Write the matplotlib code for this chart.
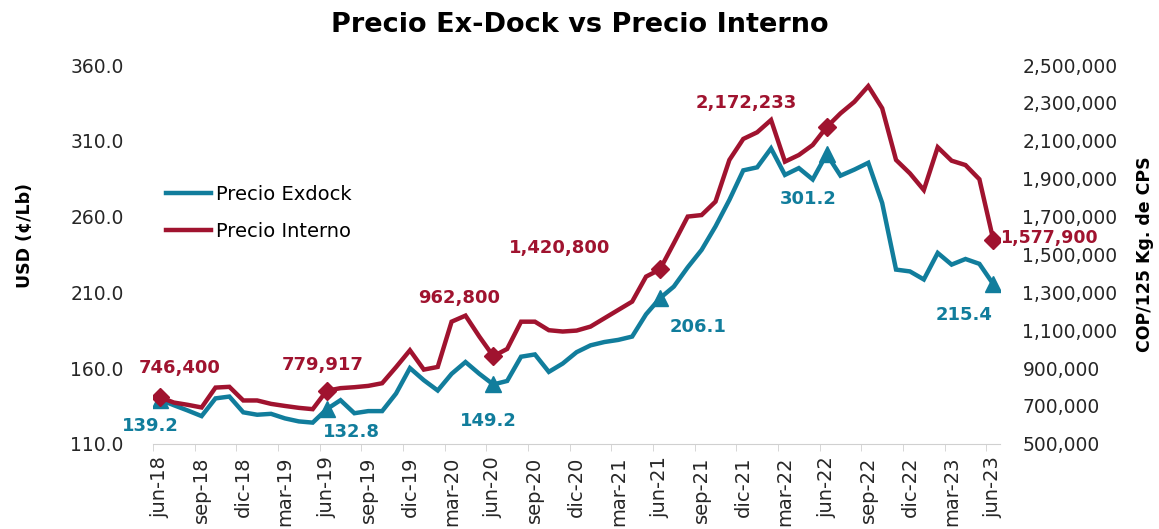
import matplotlib
matplotlib.use("Agg")
import matplotlib.pyplot as plt
import numpy as np

# meses jun-18 .. jun-23
meses = ["jun-18", "jul-18", "ago-18", "sep-18", "oct-18", "nov-18", "dic-18", "ene-19", "feb-19",
         "mar-19", "abr-19", "may-19", "jun-19", "jul-19", "ago-19", "sep-19", "oct-19", "nov-19",
         "dic-19", "ene-20", "feb-20", "mar-20", "abr-20", "may-20", "jun-20", "jul-20", "ago-20",
         "sep-20", "oct-20", "nov-20", "dic-20", "ene-21", "feb-21", "mar-21", "abr-21", "may-21",
         "jun-21", "jul-21", "ago-21", "sep-21", "oct-21", "nov-21", "dic-21", "ene-22", "feb-22",
         "mar-22", "abr-22", "may-22", "jun-22", "jul-22", "ago-22", "sep-22", "oct-22", "nov-22",
         "dic-22", "ene-23", "feb-23", "mar-23", "abr-23", "may-23", "jun-23"]

# USD (c/Lb)
exdock = [139.2, 135.5, 132.0, 128.3, 140.0, 141.2, 130.8, 129.2, 129.8, 126.8, 124.8, 124.0,
          132.8, 138.8, 130.2, 131.6, 131.6, 143.2, 160.0, 152.0, 145.2, 156.2, 164.0, 156.2,
          149.2, 151.5, 167.5, 169.0, 157.5, 163.0, 170.5, 175.0, 177.2, 178.6, 180.8, 195.5,
          206.1, 213.8, 226.5, 238.0, 253.5, 271.0, 290.5, 292.5, 305.0, 287.5, 292.0, 284.5,
          301.2, 287.0, 291.0, 295.5, 269.0, 225.0, 223.8, 218.5, 236.0, 228.3, 232.0, 228.8,
          215.4]

# COP / 125 Kg de CPS
interno = [746400, 718000, 706000, 692000, 797000, 801000, 729000, 729000, 711000, 700000, 690000,
           683000, 779917, 794000, 799000, 806000, 820000, 905000, 994000, 892000, 906000, 1145000,
           1177000, 1066000, 962800, 1001000, 1145000, 1145000, 1100000, 1093000, 1098000, 1119000,
           1163000, 1207000, 1251000, 1383000, 1420800, 1559000, 1700000, 1708000, 1779000, 1999000,
           2110000, 2145000, 2210000, 1990000, 2025000, 2078000, 2172233, 2245000, 2306000, 2389000,
           2272000, 1999000, 1928000, 1840000, 2066000, 1995000, 1972000, 1897000, 1577900]

# puntos marcados (cada junio) y desplazamiento de la etiqueta en pixeles
marcas = [0, 12, 24, 36, 48, 60]
off_exdock = [(-10, -26), (25, -23), (-5, -37), (38, -29), (-18, -45), (-29, -31)]
off_interno = [(20, 29), (-4, 26), (-34, 58), (-100, 21), (-80, 24), (56, 2)]

azul = "#117D9C"
rojo = "#A0132F"
plt.rcParams["font.family"] = ["DejaVu Sans"]

fig = plt.figure(figsize=(11.59, 5.29), dpi=100)
ax = fig.add_axes([0.132, 0.161, 0.731, 0.716])
ax2 = ax.twinx()

x = np.arange(len(meses))
ax.plot(x, exdock, color=azul, lw=3.2, label="Precio Exdock", solid_joinstyle="miter")
ax2.plot(x, interno, color=rojo, lw=3.2, label="Precio Interno", solid_joinstyle="miter")
ax.plot(x[marcas], np.array(exdock)[marcas], ls="none", marker="^", ms=11, color=azul)
ax2.plot(x[marcas], np.array(interno)[marcas], ls="none", marker="D", ms=9, color=rojo)

for k, i in enumerate(marcas):
    ax.annotate(f"{exdock[i]:.1f}", (x[i], exdock[i]), xytext=off_exdock[k], textcoords="offset pixels",
                ha="center", va="center", color=azul, fontsize=13, fontweight="bold")
    ax2.annotate(f"{interno[i]:,}", (x[i], interno[i]), xytext=off_interno[k], textcoords="offset pixels",
                 ha="center", va="center", color=rojo, fontsize=12.5 if i == 60 else 13, fontweight="bold")

# ejes
ax.set_xlim(-0.5, len(meses) - 0.5)
ax.set_ylim(110, 360)
ax2.set_ylim(500000, 2500000)
ax.set_yticks(np.arange(110, 361, 50))
ax.set_yticklabels([f"{v:.1f}" for v in np.arange(110, 361, 50)])
ax2.set_yticks(np.arange(500000, 2500001, 200000))
ax2.set_yticklabels([f"{v:,}" for v in np.arange(500000, 2500001, 200000)])

ax.set_xticks(x[::3])
ax.set_xticklabels(meses[::3], rotation=90)
ax.set_xticks(np.arange(-0.5, len(meses), 3), minor=True)
ax.tick_params(axis="x", which="major", length=0, pad=9, labelsize=14, colors="#262626")
ax.tick_params(axis="x", which="minor", length=5, color="#D0D0D0")
ax.tick_params(axis="y", length=0, labelsize=13.5, pad=21, colors="#262626")
ax2.tick_params(axis="y", length=0, labelsize=13.5, pad=16, colors="#262626")

for a in (ax, ax2):
    for s in a.spines.values():
        s.set_visible(False)
ax.spines["bottom"].set_visible(True)
ax.spines["bottom"].set_color("#D0D0D0")

ax.set_ylabel("USD (¢/Lb)", fontsize=12.5, fontweight="bold")
ax.yaxis.set_label_coords(-0.141, 0.55)
ax2.set_ylabel("COP/125 Kg. de CPS", fontsize=12.5, fontweight="bold")
ax2.yaxis.set_label_coords(1.16, 0.5)
fig.text(0.5, 0.953, "Precio Ex-Dock vs Precio Interno", ha="center", va="center",
         fontsize=19.5, fontweight="bold")

h1, l1 = ax.get_legend_handles_labels()
h2, l2 = ax2.get_legend_handles_labels()
ax.legend(h1 + h2, l1 + l2, loc="upper left", bbox_to_anchor=(-0.005, 0.73), frameon=False,
          fontsize=14, handlelength=2.3, handletextpad=0.25, labelspacing=0.95)

fig.savefig("out.png", dpi=100)
